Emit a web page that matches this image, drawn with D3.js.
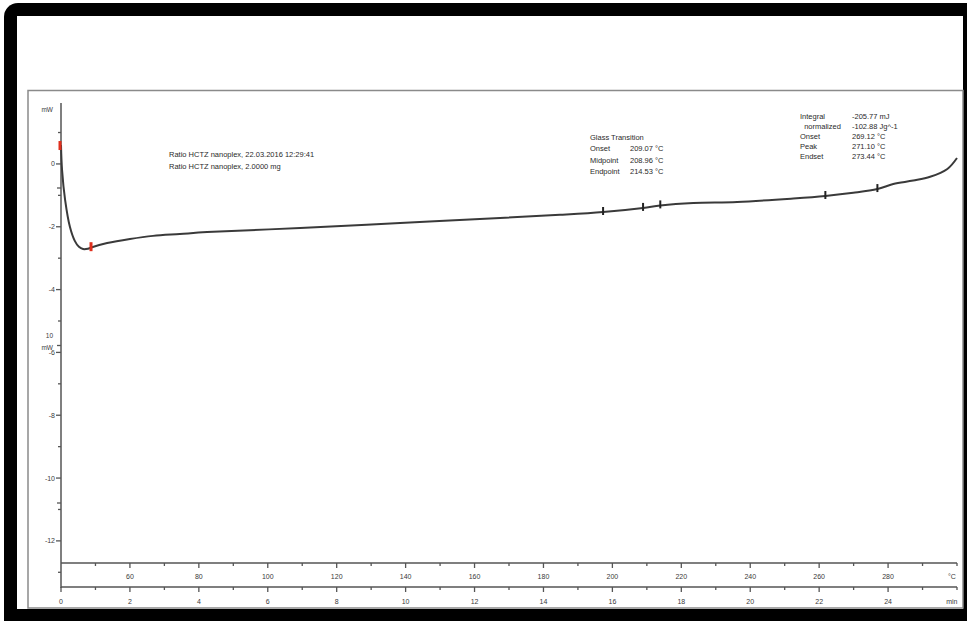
<!DOCTYPE html>
<html>
<head>
<meta charset="utf-8">
<script src="https://cdn.jsdelivr.net/npm/d3@7"></script>
<style>
  html, body { margin: 0; padding: 0; background: #fff; }
  svg { display: block; }
  text { font-family: "Liberation Sans", Arial, sans-serif; }
</style>
</head>
<body>
<svg id="chart" width="967" height="621"></svg>
<script>
// ---- data ----
const timeMin  = [0, 0.03, 0.12, 0.26, 0.40, 0.52, 0.64, 0.78, 0.90, 1.34, 2.0, 2.67, 3.45, 4.24, 6.94, 9.84, 12.74, 14.48, 15.73, 16.89, 17.39, 18.35, 19.62, 21.25, 22.18, 22.99, 23.69, 24.15, 24.73, 25.22, 25.72, 26.0];
const heatFlow = [0.60, -0.19, -1.15, -2.01, -2.45, -2.64, -2.71, -2.70, -2.65, -2.52, -2.39, -2.29, -2.23, -2.17, -2.04, -1.88, -1.72, -1.62, -1.53, -1.40, -1.32, -1.24, -1.21, -1.10, -1.02, -0.92, -0.80, -0.64, -0.53, -0.41, -0.16, 0.19];

const redMarkerTimes   = [0.0, 0.9];
const redMarkerValues  = [0.57, -2.65];
const blackMarkerTimes = [15.73, 16.89, 17.39, 22.18, 23.69];
const blackMarkerValues= [-1.53, -1.40, -1.32, -1.02, -0.80];

const yMajorTicks = [0, -2, -4, -6, -8, -10, -12];
const yMinorTicks = [1, -1, -3, -5, -7, -9, -11, -13];
const secTicks    = [0, 10, 20];

const tempMajor = [60, 80, 100, 120, 140, 160, 180, 200, 220, 240, 260, 280];
const tempMinor = [50, 70, 90, 110, 130, 150, 170, 190, 210, 230, 250, 270, 290, 300];
const timeMajor = [0, 2, 4, 6, 8, 10, 12, 14, 16, 18, 20, 22, 24];
const timeMinor = [1, 3, 5, 7, 9, 11, 13, 15, 17, 19, 21, 23, 25, 26];

const sampleLines = ["Ratio HCTZ nanoplex, 22.03.2016 12:29:41", "Ratio HCTZ nanoplex, 2.0000 mg"];
const glassLabels = ["Glass Transition", "Onset", "Midpoint", "Endpoint"];
const glassValues = ["", "209.07 °C", "208.96 °C", "214.53 °C"];
const peakLabels  = ["Integral", "  normalized", "Onset", "Peak", "Endset"];
const peakValues  = ["-205.77 mJ", "-102.88 Jg^-1", "269.12 °C", "271.10 °C", "273.44 °C"];

// ---- layout ----
const svg = d3.select("#chart");
const axisX0 = 61, axisX1 = 957;
const x = d3.scaleLinear().domain([0, 26]).range([axisX0, axisX1]);
const xT = d3.scaleLinear().domain([40, 300]).range([axisX0, axisX1]);
const y = d3.scaleLinear().domain([-13.5, 1.94]).range([588, 103]);
const ySec = d3.scaleLinear().domain([0, 20]).range([503, 188]);
const bandTop = 563, bandBot = 587;

// outer black frame
svg.append("rect").attr("x", 4).attr("y", 3).attr("width", 990).attr("height", 650)
  .attr("rx", 14).attr("fill", "#000");
svg.append("rect").attr("x", 17).attr("y", 16).attr("width", 946).attr("height", 593)
  .attr("fill", "#fff");
// inner gray box
svg.append("rect").attr("x", 28).attr("y", 90.5).attr("width", 935).attr("height", 517.5)
  .attr("fill", "none").attr("stroke", "#8a8a8a").attr("stroke-width", 1.5);

const axisColor = "#555";
const labelColor = "#3a3a3a";

// y axis line
svg.append("line").attr("x1", axisX0).attr("x2", axisX0).attr("y1", y(1.94)).attr("y2", 588)
  .attr("stroke", axisColor).attr("stroke-width", 1.5);

// y ticks
const gy = svg.append("g");
gy.selectAll(".ymaj").data(yMajorTicks).join("line")
  .attr("x1", axisX0 - 5).attr("x2", axisX0).attr("y1", d => y(d)).attr("y2", d => y(d))
  .attr("stroke", axisColor).attr("stroke-width", 1.3);
gy.selectAll(".ymin").data(yMinorTicks).join("line")
  .attr("x1", axisX0 - 3).attr("x2", axisX0).attr("y1", d => y(d)).attr("y2", d => y(d))
  .attr("stroke", axisColor).attr("stroke-width", 1.3);
gy.selectAll(".ylab").data(yMajorTicks).join("text")
  .attr("x", axisX0 - 6).attr("y", d => y(d)).attr("dy", "0.35em")
  .attr("text-anchor", "end").attr("font-size", 7).attr("fill", labelColor)
  .text(d => d === 0 ? "0" : "-" + Math.abs(d));
// secondary axis ticks
gy.selectAll(".ysec").data(secTicks).join("line")
  .attr("x1", axisX0 - 4).attr("x2", axisX0).attr("y1", d => ySec(d)).attr("y2", d => ySec(d))
  .attr("stroke", axisColor).attr("stroke-width", 1.3);
svg.append("text").attr("x", 53).attr("y", ySec(10) - 8).attr("text-anchor", "end")
  .attr("font-size", 6.5).attr("fill", labelColor).text("10");
svg.append("text").attr("x", 53).attr("y", ySec(10) + 4).attr("text-anchor", "end")
  .attr("font-size", 6.5).attr("fill", labelColor).text("mW");
svg.append("text").attr("x", 53).attr("y", 112).attr("text-anchor", "end")
  .attr("font-size", 6.5).attr("fill", labelColor).text("mW");

// x band lines
[bandTop, bandBot].forEach(yy => {
  svg.append("line").attr("x1", axisX0).attr("x2", axisX1).attr("y1", yy).attr("y2", yy)
    .attr("stroke", axisColor).attr("stroke-width", 1.5);
});
// temperature ticks
svg.selectAll(".tmaj").data(tempMajor).join("line")
  .attr("x1", d => xT(d)).attr("x2", d => xT(d)).attr("y1", bandTop).attr("y2", bandTop + 5)
  .attr("stroke", axisColor).attr("stroke-width", 1.3);
svg.selectAll(".tmin").data(tempMinor).join("line")
  .attr("x1", d => xT(d)).attr("x2", d => xT(d)).attr("y1", bandTop).attr("y2", bandTop + 3)
  .attr("stroke", axisColor).attr("stroke-width", 1.3);
svg.selectAll(".tlab").data(tempMajor).join("text")
  .attr("x", d => xT(d)).attr("y", bandTop + 14).attr("dy", "0.35em")
  .attr("text-anchor", "middle").attr("font-size", 7).attr("fill", labelColor).text(d => d);
svg.append("text").attr("x", xT(298.5)).attr("y", bandTop + 14).attr("dy", "0.35em")
  .attr("text-anchor", "middle").attr("font-size", 7).attr("fill", labelColor).text("°C");
// time ticks
svg.selectAll(".mmaj").data(timeMajor).join("line")
  .attr("x1", d => x(d)).attr("x2", d => x(d)).attr("y1", bandBot).attr("y2", bandBot + 5)
  .attr("stroke", axisColor).attr("stroke-width", 1.3);
svg.selectAll(".mmin").data(timeMinor).join("line")
  .attr("x1", d => x(d)).attr("x2", d => x(d)).attr("y1", bandBot).attr("y2", bandBot + 3)
  .attr("stroke", axisColor).attr("stroke-width", 1.3);
svg.selectAll(".mlab").data(timeMajor).join("text")
  .attr("x", d => x(d)).attr("y", bandBot + 15).attr("dy", "0.35em")
  .attr("text-anchor", "middle").attr("font-size", 7).attr("fill", labelColor).text(d => d);
svg.append("text").attr("x", x(25.85)).attr("y", bandBot + 15).attr("dy", "0.35em")
  .attr("text-anchor", "middle").attr("font-size", 7).attr("fill", labelColor).text("min");

// curve
const pts = timeMin.map((t, i) => [t, heatFlow[i]]);
const line = d3.line().x(d => x(d[0])).y(d => y(d[1])).curve(d3.curveCatmullRom.alpha(0.5));
svg.append("path").datum(pts).attr("d", line)
  .attr("fill", "none").attr("stroke", "#3a3a3a").attr("stroke-width", 2);

// markers
svg.selectAll(".bm").data(blackMarkerTimes).join("line")
  .attr("x1", d => x(d)).attr("x2", d => x(d))
  .attr("y1", (d, i) => y(blackMarkerValues[i]) - 5).attr("y2", (d, i) => y(blackMarkerValues[i]) + 3)
  .attr("stroke", "#222").attr("stroke-width", 2);
svg.selectAll(".rm").data(redMarkerTimes).join("line")
  .attr("x1", d => x(d) - 1).attr("x2", d => x(d) - 1)
  .attr("y1", (d, i) => y(redMarkerValues[i]) - 5).attr("y2", (d, i) => y(redMarkerValues[i]) + 4)
  .attr("stroke", "#e0301e").attr("stroke-width", 3);

// annotations
const annSize = 7.5, annColor = "#2a2a2a";
svg.selectAll(".s").data(sampleLines).join("text")
  .attr("x", 169).attr("y", (d, i) => 157 + i * 12)
  .attr("font-size", annSize).attr("fill", annColor).text(d => d);
svg.selectAll(".g").data(glassLabels).join("text")
  .attr("x", 590).attr("y", (d, i) => 140 + i * 11.3)
  .attr("font-size", annSize).attr("fill", annColor).text(d => d);
svg.selectAll(".gv").data(glassValues).join("text")
  .attr("x", 630).attr("y", (d, i) => 140 + i * 11.3)
  .attr("font-size", annSize).attr("fill", annColor).text(d => d);
svg.selectAll(".p").data(peakLabels).join("text")
  .attr("x", 800).attr("y", (d, i) => 119 + i * 10)
  .attr("font-size", annSize).attr("fill", annColor).attr("xml:space", "preserve")
  .style("white-space", "pre").text(d => d);
svg.selectAll(".pv").data(peakValues).join("text")
  .attr("x", 852).attr("y", (d, i) => 119 + i * 10)
  .attr("font-size", annSize).attr("fill", annColor).text(d => d);
</script>
</body>
</html>
